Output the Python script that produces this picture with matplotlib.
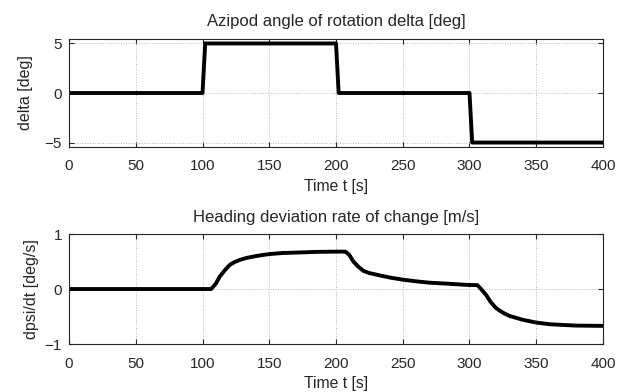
import matplotlib
matplotlib.use('Agg')
import matplotlib.pyplot as plt

# step input: azipod angle [deg]
t_delta = [0, 100, 102, 200, 202, 300, 302, 400]
delta = [0, 0, 5, 5, 0, 0, -5, -5]

# heading deviation rate [deg/s]
t_rate = [0, 106.5, 110, 113, 117, 120.5, 124, 128, 133, 138, 144, 150, 160, 173, 185, 200, 207,
          210, 213, 217, 220.5, 225, 230.5, 240, 250, 260, 270, 285, 298, 306,
          309, 312.5, 316, 320, 325, 330, 340, 350, 360, 367.5, 380, 400]
rate = [0, 0, 0.10, 0.23, 0.35, 0.44, 0.49, 0.53, 0.565, 0.59, 0.615, 0.635, 0.655, 0.665, 0.675, 0.68, 0.68,
        0.62, 0.50, 0.40, 0.33, 0.29, 0.26, 0.21, 0.17, 0.14, 0.115, 0.095, 0.075, 0.07,
        -0.01, -0.11, -0.24, -0.35, -0.43, -0.49, -0.56, -0.61, -0.64, -0.65, -0.665, -0.67]

x_ticks = [0, 50, 100, 150, 200, 250, 300, 350, 400]

plt.rcParams['font.family'] = ['Liberation Sans', 'DejaVu Sans']
plt.rcParams['font.size'] = 11

fig = plt.figure(figsize=(6.18, 3.92), dpi=100)
ax1 = fig.add_axes([0.1117, 0.625, 0.864, 0.2755])
ax2 = fig.add_axes([0.1117, 0.1224, 0.864, 0.2806])


def style(ax):
	ax.set_xlim(0, 400)
	ax.set_xticks(x_ticks)
	ax.grid(True, linestyle=':', color='#b8b8b8', linewidth=0.7)
	ax.tick_params(direction='in', top=True, right=True, length=3.5, width=0.8,
		colors='#262626', labelcolor='#262626', labelsize=11)
	ax.tick_params(axis='x', pad=9)
	ax.tick_params(axis='y', pad=5)
	for s in ax.spines.values():
		s.set_color('#262626')
		s.set_linewidth(0.8)
	ax.set_xlabel('Time t [s]', fontsize=11.3, labelpad=4, color='#262626')


ax1.plot(t_delta, delta, color='black', linewidth=2.8)
ax1.set_ylim(-5.45, 5.45)
ax1.set_yticks([-5, 0, 5])
ax1.set_ylabel('delta [deg]', fontsize=11.5, labelpad=8.5, color='#262626')
ax1.set_title('Azipod angle of rotation delta [deg]', fontsize=12, pad=9.5, color='#262626')
style(ax1)

ax2.plot(t_rate, rate, color='black', linewidth=2.8)
ax2.set_ylim(-1, 1)
ax2.set_yticks([-1, 0, 1])
ax2.set_ylabel('dpsi/dt [deg/s]', fontsize=11.5, labelpad=4, color='#262626')
ax2.set_title('Heading deviation rate of change [m/s]', fontsize=12, pad=9, color='#262626')
style(ax2)

fig.savefig('out.png', dpi=100)
